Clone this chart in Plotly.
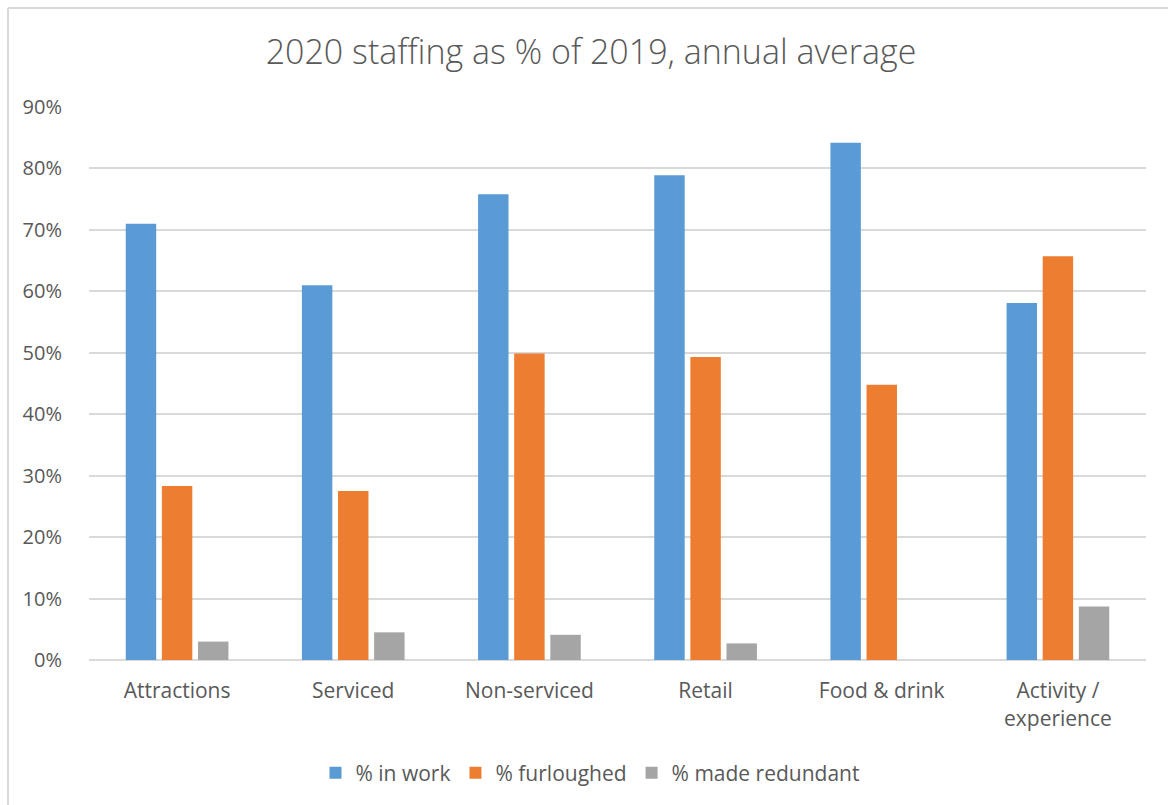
import plotly.graph_objects as go

# Staffing in 2020 relative to 2019, by business type (percent)
categories = ["Attractions", "Serviced", "Non-serviced", "Retail", "Food & drink", "Activity /<br>experience"]
pct_in_work = [71.0, 61.0, 75.8, 78.9, 84.2, 58.1]
pct_furloughed = [28.3, 27.5, 49.9, 49.3, 44.8, 65.7]
pct_redundant = [3.0, 4.5, 4.1, 2.7, 0.0, 8.7]
y_ticks = [0, 10, 20, 30, 40, 50, 60, 70, 80, 90]
y_tick_labels = ["0%", "10%", "20%", "30%", "40%", "50%", "60%", "70%", "80%", "90%"]

series = [
    ("% in work", pct_in_work, "#5b9bd5"),
    ("% furloughed", pct_furloughed, "#ed7d31"),
    ("% made redundant", pct_redundant, "#a5a5a5"),
]

FONT = "Open Sans, Lato, DejaVu Sans, sans-serif"
TEXT = "#595959"
GRID = "#d9d9d9"

W, H = 1168, 805
L, R, T, B = 89, 22, 107, 145

fig = go.Figure()
for name, vals, color in series:
    fig.add_trace(go.Bar(
        name=name, x=categories, y=vals,
        marker=dict(color=color, line=dict(width=0)),
        hoverinfo="x+y",
    ))

# paper coordinates of the outer frame (top and left edges)
plot_w = W - L - R
plot_h = H - T - B
frame_x = (8 - L) / plot_w
frame_y = (H - B - 8) / plot_h

fig.update_layout(
    width=W, height=H,
    margin=dict(l=L, r=R, t=T, b=B, pad=0),
    paper_bgcolor="white", plot_bgcolor="white",
    barmode="group", bargap=0.385, bargroupgap=0.157,
    font=dict(family=FONT, color=TEXT, size=20),
    title=dict(
        text="2020 staffing as % of 2019, annual average",
        x=591 / W, xref="container", xanchor="center",
        y=1 - 52 / H, yref="container", yanchor="middle",
        font=dict(family=FONT, size=34, color=TEXT, weight=300),
    ),
    showlegend=True,
    legend=dict(
        orientation="h", x=(590 - L) / plot_w, xanchor="center",
        y=(H - B - 773) / plot_h, yanchor="middle",
        font=dict(family=FONT, size=21, color=TEXT),
        traceorder="normal", itemclick=False, itemdoubleclick=False,
    ),
    xaxis=dict(
        showgrid=False, showline=False, zeroline=False,
        ticks="outside", ticklen=12, tickcolor="rgba(0,0,0,0)",
        tickfont=dict(family=FONT, size=21, color=TEXT),
        fixedrange=True,
    ),
    yaxis=dict(
        range=[0, 90], tickvals=y_ticks, ticktext=y_tick_labels,
        showgrid=True, gridcolor=GRID, gridwidth=1.5,
        zeroline=True, zerolinecolor=GRID, zerolinewidth=1.5,
        showline=False, ticks="outside", ticklen=22, tickcolor="rgba(0,0,0,0)",
        tickfont=dict(family=FONT, size=20, color=TEXT),
        fixedrange=True,
    ),
    shapes=[
        dict(type="line", xref="paper", yref="paper",
             x0=frame_x, x1=(W - L) / plot_w, y0=frame_y, y1=frame_y,
             line=dict(color=GRID, width=2), layer="below"),
        dict(type="line", xref="paper", yref="paper",
             x0=frame_x, x1=frame_x, y0=frame_y, y1=-B / plot_h,
             line=dict(color=GRID, width=2), layer="below"),
    ],
)

fig.write_html("out.html", config={"displayModeBar": False})
